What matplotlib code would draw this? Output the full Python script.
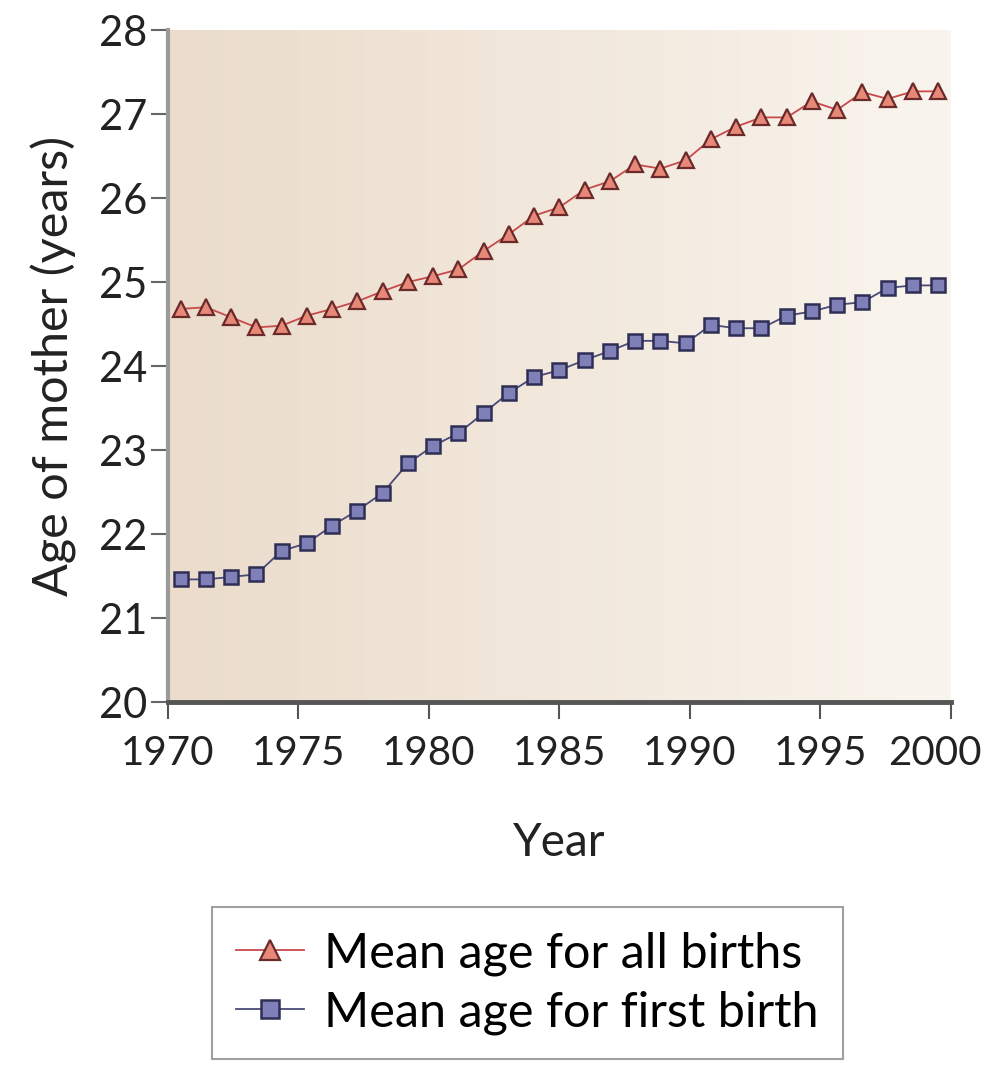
import numpy as np
import matplotlib
matplotlib.use('Agg')
import matplotlib.pyplot as plt
import matplotlib.transforms as mtransforms
from matplotlib.colors import LinearSegmentedColormap

# === Data ===
years = list(range(1970, 2001))
all_births = [24.68, 24.70, 24.58, 24.46, 24.48, 24.60, 24.68, 24.77, 24.89, 25.00,
              25.07, 25.15, 25.37, 25.57, 25.79, 25.89, 26.10, 26.20, 26.40, 26.35,
              26.45, 26.70, 26.85, 26.96, 26.96, 27.15, 27.05, 27.26, 27.18, 27.27,
              27.27]
first_birth = [21.46, 21.46, 21.49, 21.52, 21.80, 21.89, 22.10, 22.28, 22.49, 22.84,
               23.05, 23.20, 23.44, 23.68, 23.87, 23.95, 24.07, 24.18, 24.30, 24.30,
               24.27, 24.49, 24.45, 24.45, 24.60, 24.65, 24.73, 24.76, 24.93, 24.96,
               24.96]
series_labels = ["Mean age for all births", "Mean age for first birth"]
x_ticks = [1970, 1975, 1980, 1985, 1990, 1995, 2000]
y_ticks = [20, 21, 22, 23, 24, 25, 26, 27, 28]

plt.rcParams['font.family'] = ['Lato', 'DejaVu Sans']

# points sit in the middle of 31 year-slots spread over the 1970-2000 axis
n = len(years)
xpos = 1970 + (np.arange(n) + 0.5) * (2000 - 1970) / n

fig = plt.figure(figsize=(9.91, 10.65), dpi=100)
ax = fig.add_axes([0.1695, 0.3408, 0.79, 0.631])

# warm beige gradient background
bg = LinearSegmentedColormap.from_list('bg', ['#ebdccb', '#f2e8dc', '#f9f5ee'])
grad = np.linspace(0, 1, 256).reshape(1, -1)
ax.imshow(grad, cmap=bg, aspect='auto', extent=[1970, 2000, 20, 28], zorder=0)

ax.plot(xpos, all_births, color='#c84a4a', lw=1.3, marker='^', ms=11,
        mfc='#e88878', mec='#6a2a2a', mew=1.6, label=series_labels[0], zorder=3)
ax.plot(xpos, first_birth, color='#4a4a78', lw=1.3, marker='s', ms=10,
        mfc='#8080b8', mec='#2e2e55', mew=1.8, label=series_labels[1], zorder=3)

ax.set_xlim(1970, 2000)
ax.set_ylim(20, 28)
ax.set_xticks(x_ticks)
ax.set_yticks(y_ticks)
ax.tick_params(axis='x', labelsize=29, length=12, width=1.5, color='#555555',
               pad=12, labelcolor='#222222')
ax.tick_params(axis='y', labelsize=30, length=12, width=1.5, color='#666666',
               pad=3, labelcolor='#222222')

# last year label sits a little left so it stays inside the picture
last = ax.get_xticklabels()[-1]
last.set_transform(last.get_transform() +
                   mtransforms.ScaledTranslation(-0.16, 0, fig.dpi_scale_trans))

for side in ['top', 'right']:
    ax.spines[side].set_visible(False)
ax.spines['left'].set_color('#9a9a9a')
ax.spines['left'].set_linewidth(3)
ax.spines['bottom'].set_color('#555555')
ax.spines['bottom'].set_linewidth(3.5)

ax.set_xlabel("Year", fontsize=33, color='#222222', labelpad=36)
ax.set_ylabel("Age of mother (years)", fontsize=35, color='#222222', labelpad=16)

leg = fig.legend(loc='center', bbox_to_anchor=(0.532, 0.077), fontsize=35,
                 frameon=True, fancybox=False, edgecolor='#888888',
                 handlelength=1.4, handletextpad=0.4, borderpad=0.5,
                 labelspacing=0.3, markerscale=1.3)
leg.get_frame().set_linewidth(1.5)

fig.savefig('out.png', dpi=100)
plt.close()
